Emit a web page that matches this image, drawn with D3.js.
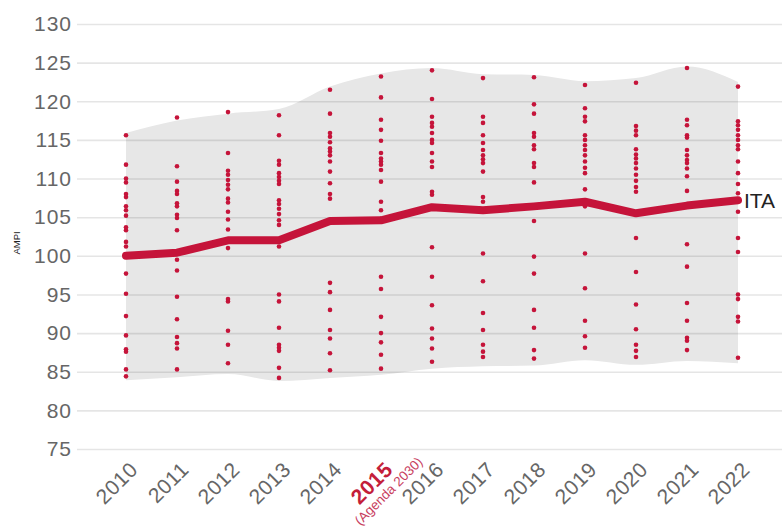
<!DOCTYPE html>
<html><head><meta charset="utf-8">
<script src="https://cdn.jsdelivr.net/npm/d3@7"></script>
<style>
body{margin:0;background:#fff}
svg{display:block}
text{font-family:"Liberation Sans",Arial,Helvetica,sans-serif}
</style>
</head><body>
<svg id="chart" width="782" height="530"></svg>
<script>
const years = [2010,2011,2012,2013,2014,2015,2016,2017,2018,2019,2020,2021,2022];
const yTicks = [75,80,85,90,95,100,105,110,115,120,125,130];
const itaLabel = "ITA";
const yLabel = "AMPI";
const agendaLabel = "(Agenda 2030)";
const itaValues = [100.0,100.4,102.0,102.0,104.5,104.6,106.3,105.9,106.4,107.0,105.5,106.5,107.2];
const bandHigh = [115.9,117.5,118.4,119.0,121.9,123.6,124.3,123.5,123.4,122.6,123.0,124.5,122.5];
const bandLow  = [83.9,84.3,84.7,83.8,84.2,84.6,85.4,85.7,85.8,86.5,85.9,86.4,86.1];
const values2010 = [115.6,111.8,110.0,109.5,108.0,107.6,106.4,105.9,105.2,103.7,103.3,101.8,101.2,100.2,97.7,95.1,92.2,89.7,87.9,87.6,85.3,84.4];
const values2011 = [117.9,111.6,109.6,108.4,108.0,106.8,106.4,105.3,104.9,103.3,99.5,98.1,94.7,91.8,89.5,88.7,88.0,85.3];
const values2012 = [118.6,113.3,111.0,110.5,109.8,109.2,108.6,107.4,106.9,105.7,104.7,103.4,101.0,94.4,94.1,90.3,88.5,86.1];
const values2013 = [118.2,115.6,112.3,111.8,110.7,110.2,109.7,109.3,107.2,106.7,106.1,105.4,104.6,104.0,101.2,95.0,94.1,90.7,88.5,88.1,87.7,85.5,84.2];
const values2014 = [121.5,118.4,115.9,115.4,114.7,113.9,113.5,113.0,112.2,110.9,109.4,108.0,107.4,96.5,95.3,93.0,90.4,89.3,87.4,85.2];
const values2015 = [123.2,120.5,117.6,116.3,114.9,113.3,112.6,112.2,111.8,111.1,109.6,107.0,105.9,97.3,95.7,92.1,90.0,88.8,87.2,85.4];
const values2016 = [124.0,120.3,118.0,117.2,116.7,115.9,115.0,114.6,113.3,112.2,111.5,108.3,107.9,101.1,97.3,93.6,90.6,89.3,88.0,86.3];
const values2017 = [123.0,118.0,117.2,115.6,114.6,113.7,113.0,112.5,112.0,110.9,107.6,107.0,100.3,96.7,92.6,90.4,88.5,87.6,86.9];
const values2018 = [123.1,119.6,118.4,115.9,115.4,114.3,113.8,112.0,111.5,109.5,104.5,99.9,97.7,93.0,90.7,87.8,86.7];
const values2019 = [122.1,119.1,118.0,117.4,115.6,115.0,114.3,113.7,113.0,112.2,111.4,110.7,108.6,106.4,100.3,95.8,91.6,89.6,88.1];
const values2020 = [122.4,116.8,116.2,115.6,113.8,113.1,112.6,112.0,111.3,110.5,109.7,108.9,108.3,102.3,97.9,93.7,90.5,88.5,87.7,86.9];
const values2021 = [124.3,117.6,116.9,115.6,115.3,113.7,113.0,112.4,112.0,111.3,110.3,108.4,101.5,98.6,93.9,91.6,89.4,89.0,87.8];
const values2022 = [121.9,117.4,116.9,116.3,115.6,115.0,114.3,113.8,112.2,110.7,109.3,108.1,105.7,102.3,100.5,95.0,94.4,92.1,91.5,86.8];
const valuesByYear = [values2010,values2011,values2012,values2013,values2014,values2015,values2016,values2017,values2018,values2019,values2020,values2021,values2022];
const highlightYear = 2015;

const svg = d3.select("#chart");
const red = "#c5143a";
const x = d3.scaleLinear().domain([2010,2022]).range([126,738]);
const y = d3.scaleLinear().domain([75,130]).range([449,24]);

// band
const bandData = years.map((yr,i)=>({yr,hi:bandHigh[i],lo:bandLow[i]}));
svg.append("path")
  .datum(bandData)
  .attr("fill","#e7e7e7")
  .attr("d", d3.area().curve(d3.curveMonotoneX)
     .x(d=>x(d.yr)).y0(d=>y(d.lo)).y1(d=>y(d.hi)));

// y axis with gridlines
const yAxis = svg.append("g")
  .attr("transform","translate(77,0)")
  .call(d3.axisLeft(y).tickValues(yTicks).tickSize(-705).tickPadding(5).tickFormat(d3.format("d")));
yAxis.select(".domain").remove();
yAxis.selectAll(".tick line").attr("stroke","#000").attr("stroke-opacity",0.1).attr("stroke-width",1.6);
yAxis.selectAll(".tick text")
  .attr("fill","#666").attr("font-size",21).style("letter-spacing","1px")
  .attr("font-family","'Liberation Sans',Arial,sans-serif");

svg.append("text")
  .attr("transform","translate(20,243) rotate(-90)")
  .attr("text-anchor","middle")
  .attr("font-size",9.5).attr("fill","#222").text(yLabel);

// dots
const dotData = [];
years.forEach((yr,i)=>valuesByYear[i].forEach(v=>dotData.push({yr,v})));
svg.append("g").selectAll("circle").data(dotData).join("circle")
  .attr("cx",d=>x(d.yr)).attr("cy",d=>y(d.v)).attr("r",2.3).attr("fill",red);

// ITA line
svg.append("path")
  .datum(years.map((yr,i)=>({yr,v:itaValues[i]})))
  .attr("fill","none").attr("stroke",red).attr("stroke-width",8)
  .attr("stroke-linejoin","round").attr("stroke-linecap","round")
  .attr("d", d3.line().x(d=>x(d.yr)).y(d=>y(d.v)));

svg.append("text")
  .attr("x", x(2022)+6).attr("y", y(itaValues[12])+8)
  .attr("font-size",21).attr("fill","#222").text(itaLabel);

// x labels
const xl = svg.append("g").selectAll("g").data(years).join("g")
  .attr("transform", d=>`translate(${x(d)+13},471) rotate(-45)`);
xl.append("text")
  .attr("text-anchor","end")
  .attr("font-size",21)
  .style("letter-spacing","0.5px")
  .attr("font-weight", d=>d===highlightYear?"bold":"normal")
  .attr("fill", d=>d===highlightYear?"#c41e3a":"#666")
  .text(d=>d);
xl.filter(d=>d===highlightYear).append("text")
  .attr("x",-18).attr("y",15)
  .attr("text-anchor","middle")
  .attr("font-size",13.5).attr("fill","#c8405e")
  .text(agendaLabel);
</script>
</body></html>
